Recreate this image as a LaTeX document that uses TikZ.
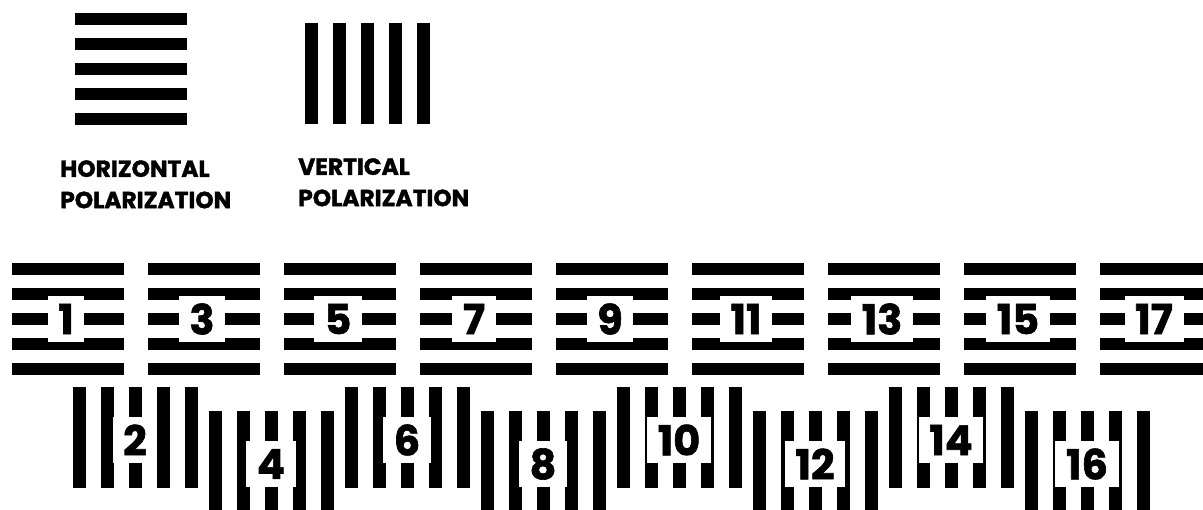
\documentclass[tikz,border=0pt]{standalone}
\usepackage{fontspec}
\usetikzlibrary{positioning}
\newfontfamily\PolFont{Poppins}[BoldFeatures={FakeBold=1.5}]
\definecolor{PolInk}{HTML}{000000}
\newcommand{\PolLabel}{\fontsize{17.5}{23.5}\selectfont\PolFont\bfseries}
\newcommand{\PolDigit}{\fontsize{31}{32}\selectfont\PolFont\bfseries}
\tikzset{
  polbar/.style={
    fill=PolInk,
    draw=none
  },
  hpol/.pic={
    \foreach \i in {0,...,4}
      \fill[polbar] (0,25*\i) rectangle ++(112,12);
  },
  vpol/.pic={
    \foreach \i in {0,...,4}
      \fill[polbar] (28*\i,0) rectangle ++(12.5,101);
  },
  poltext/.style={
    align=left,
    inner sep=0pt,
    text=PolInk,
    font=\PolLabel
  },
  numbox/.style={
    fill=white,
    draw=none,
    text=PolInk,
    inner xsep=8pt,
    inner ysep=0pt,
    minimum height=34pt,
    font=\PolDigit
  }
}

\begin{document}
\begin{tikzpicture}[x=0.75pt,y=-0.75pt]
\path[use as bounding box] (0,0) rectangle (1203,510);

% legend
\pic at (75,13) {hpol};
\pic at (305,23) {vpol};
\node[poltext, anchor=north west] (hlabel) at (60,160) {HORIZONTAL\\POLARIZATION};
\node[poltext, anchor=north west] (vlabel) at (298,158) {VERTICAL\\POLARIZATION};

% odd: horizontal row
\foreach \k [evaluate=\k as \num using int(2*\k+1)] in {0,...,8} {
  \pic at (12+136*\k,263) {hpol};
  \node[numbox] (num\num) at (66+136*\k,319) {\num};
}

% even: vertical row, staggered
\foreach \k [evaluate=\k as \num using int(2*\k+2),
             evaluate=\k as \top using {387+24*mod(\k,2)}] in {0,...,7} {
  \pic at (73+136*\k,\top) {vpol};
  \node[numbox, minimum height=35pt] (num\num) at (135+136*\k,\top+53) {\num};
}

\end{tikzpicture}
\end{document}
